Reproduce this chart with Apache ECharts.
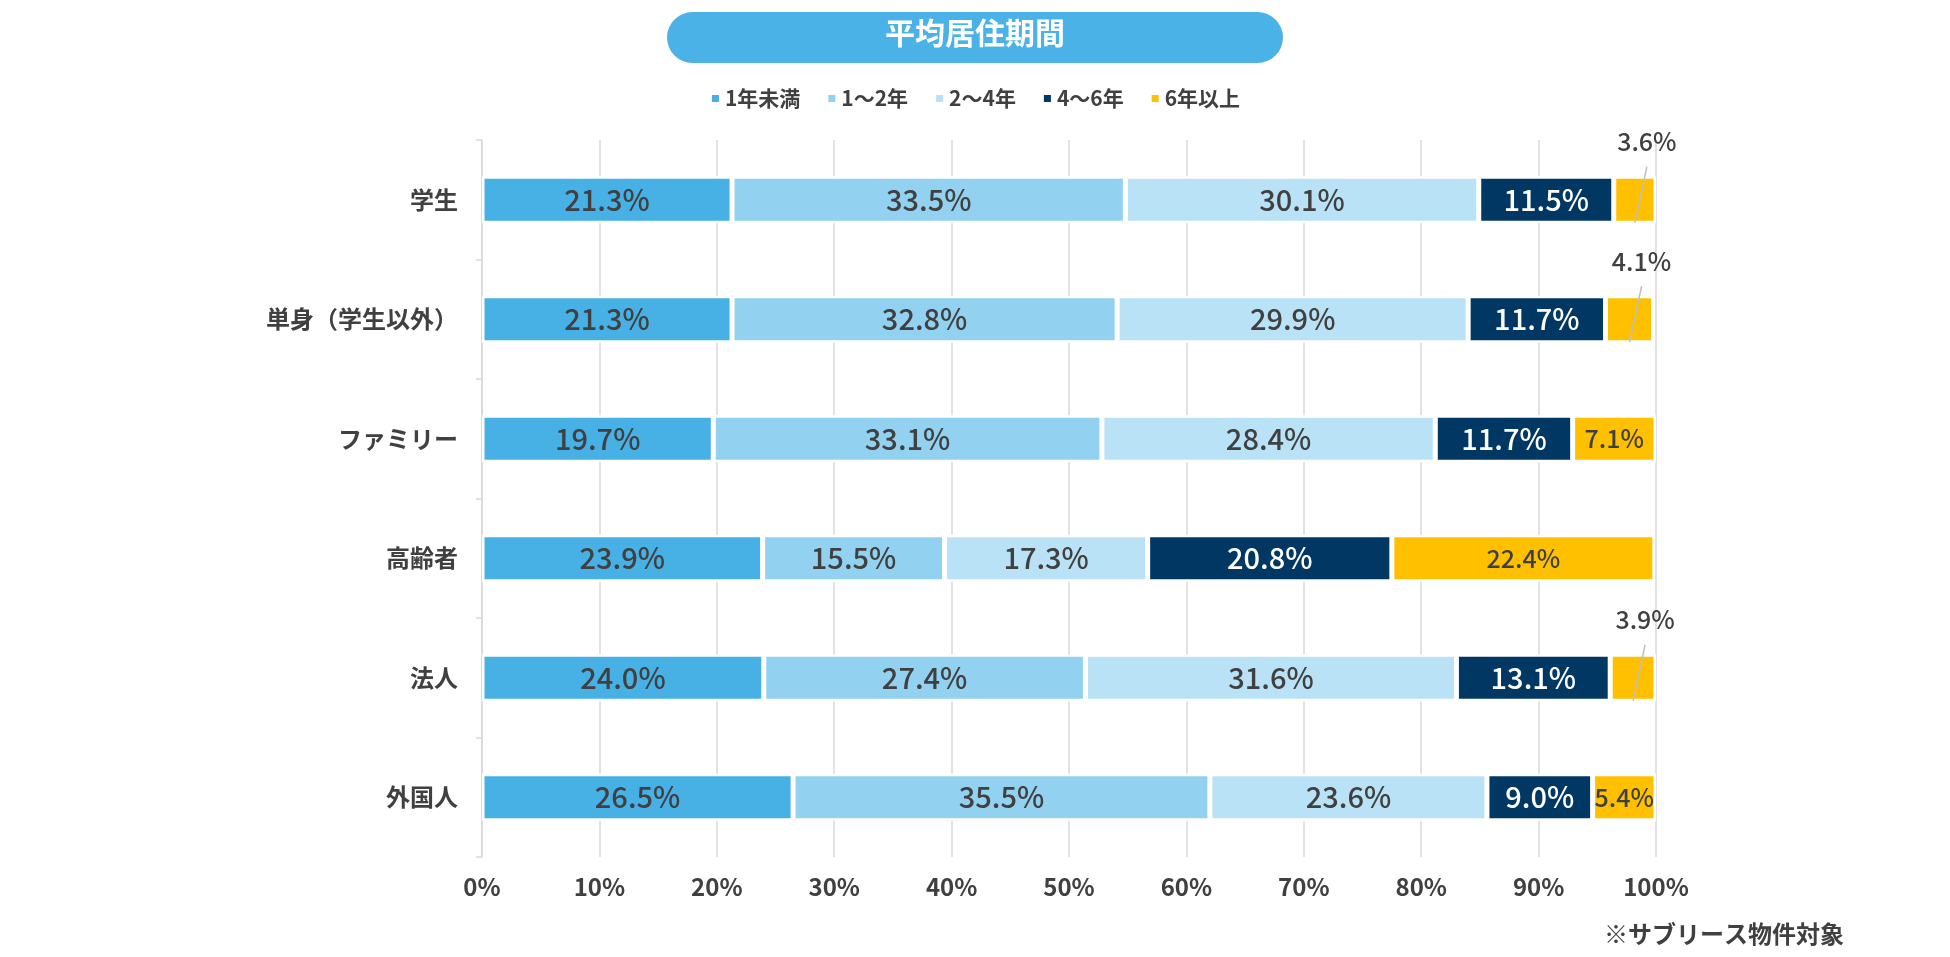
<!DOCTYPE html>
<html>
<head>
<meta charset="utf-8">
<title>平均居住期間</title>
<script src="https://cdn.jsdelivr.net/npm/echarts@6/dist/echarts.min.js"></script>
<style>
    html, body { margin: 0; padding: 0; background: #fff; }
    #chart { width: 1950px; height: 957px; }
</style>
</head>
<body>
<div id="chart"></div>
<script>

// Data
// ------------------------------

var categories = ['学生', '単身（学生以外）', 'ファミリー', '高齢者', '法人', '外国人'];
var periodNames = ['1年未満', '1～2年', '2～4年', '4～6年', '6年以上'];

var under1 = [21.3, 21.3, 19.7, 23.9, 24.0, 26.5];
var from1to2 = [33.5, 32.8, 33.1, 15.5, 27.4, 35.5];
var from2to4 = [30.1, 29.9, 28.4, 17.3, 31.6, 23.6];
var from4to6 = [11.5, 11.7, 11.7, 20.8, 13.1, 9.0];
var over6 = [3.6, 4.1, 7.1, 22.4, 3.9, 5.4];

var xTicks = [0, 10, 20, 30, 40, 50, 60, 70, 80, 90, 100];

var periodColors = ['#47b1e5', '#92d1f0', '#bae2f6', '#003763', '#ffc000'];
var labelColors = ['#404040', '#404040', '#404040', '#ffffff', '#404040'];


// Chart
// ------------------------------

var chartElement = document.getElementById('chart');
var chart = echarts.init(chartElement);

var fontFamily = '"Noto Sans CJK JP", "Noto Sans", sans-serif';
var seriesValues = [under1, from1to2, from2to4, from4to6, over6];

// values under 5% are drawn outside the bar with a leader line
var smallLimit = 5;

var barSeries = seriesValues.map(function(values, s) {
    var isLast = s === seriesValues.length - 1;
    return {
        name: periodNames[s],
        type: 'bar',
        stack: 'total',
        barWidth: 47,
        itemStyle: {
            color: periodColors[s],
            borderColor: '#ffffff',
            borderWidth: 2.5
        },
        label: {
            show: true,
            position: 'inside',
            color: labelColors[s],
            fontFamily: fontFamily,
            fontWeight: 500,
            fontSize: isLast ? 25 : 29,
            formatter: function(p) {
                if (isLast && p.value < smallLimit) return '';
                return p.value.toFixed(1) + '%';
            }
        },
        data: values
    };
});

// positions of the small outside labels (centre of the last segment)
var outsideData = [];
categories.forEach(function(c, i) {
    var v = over6[i];
    if (v < smallLimit) {
        var start = under1[i] + from1to2[i] + from2to4[i] + from4to6[i];
        outsideData.push([start + v / 2, i, v]);
    }
});

var outsideSeries = {
    name: 'outside',
    type: 'custom',
    z: 10,
    silent: true,
    renderItem: function(params, api) {
        var p = api.coord([api.value(0), api.value(1)]);
        return {
            type: 'group',
            children: [
                {
                    type: 'line',
                    shape: { x1: p[0] + 12, y1: p[1] - 33, x2: p[0], y2: p[1] + 23 },
                    style: { stroke: '#bfbfbf', lineWidth: 1.5 }
                },
                {
                    type: 'text',
                    x: p[0] + 12,
                    y: p[1] - 58,
                    style: {
                        text: api.value(2).toFixed(1) + '%',
                        textAlign: 'center',
                        textVerticalAlign: 'middle',
                        fontFamily: fontFamily,
                        fontWeight: 500,
                        fontSize: 25,
                        fill: '#404040'
                    }
                }
            ]
        };
    },
    data: outsideData
};

chart.setOption({
    animation: false,
    textStyle: {
        fontFamily: fontFamily
    },

    // Title pill and footnote
    graphic: [
        {
            type: 'rect',
            left: 'center',
            top: 12,
            shape: { width: 616, height: 51, r: 25.5 },
            style: { fill: '#4ab2e6' }
        },
        {
            type: 'text',
            left: 'center',
            top: 18,
            style: {
                text: '平均居住期間',
                fontFamily: fontFamily,
                fontSize: 30,
                fontWeight: 'bold',
                fill: '#ffffff'
            }
        },
        {
            type: 'text',
            right: 106,
            top: 922,
            style: {
                text: '※サブリース物件対象',
                fontFamily: fontFamily,
                fontSize: 24,
                fontWeight: 'bold',
                fill: '#404040'
            }
        }
    ],

    legend: {
        data: periodNames,
        top: 83,
        left: 'center',
        icon: 'rect',
        itemWidth: 9,
        itemHeight: 9,
        itemGap: 26,
        textStyle: {
            fontFamily: fontFamily,
            fontSize: 21,
            fontWeight: 'bold',
            color: '#404040'
        }
    },

    grid: {
        left: 482,
        right: 294,
        top: 140,
        bottom: 100
    },

    xAxis: {
        type: 'value',
        min: xTicks[0],
        max: xTicks[xTicks.length - 1],
        interval: xTicks[1] - xTicks[0],
        axisLine: { show: false },
        axisTick: { show: false },
        splitLine: {
            lineStyle: { color: '#d9d9d9', width: 1.5 }
        },
        axisLabel: {
            formatter: '{value}%',
            margin: 18,
            fontFamily: fontFamily,
            fontSize: 24,
            fontWeight: 'bold',
            color: '#404040'
        }
    },

    yAxis: {
        type: 'category',
        inverse: true,
        data: categories,
        axisLine: {
            show: true,
            lineStyle: { color: '#d9d9d9', width: 1.5 }
        },
        axisTick: {
            show: true,
            length: 6,
            lineStyle: { color: '#d9d9d9', width: 1.5 }
        },
        axisLabel: {
            margin: 24,
            fontFamily: fontFamily,
            fontSize: 24,
            fontWeight: 'bold',
            color: '#404040'
        }
    },

    series: barSeries.concat([outsideSeries])
});

window.addEventListener('resize', function() {
    chart.resize();
});

</script>
</body>
</html>
